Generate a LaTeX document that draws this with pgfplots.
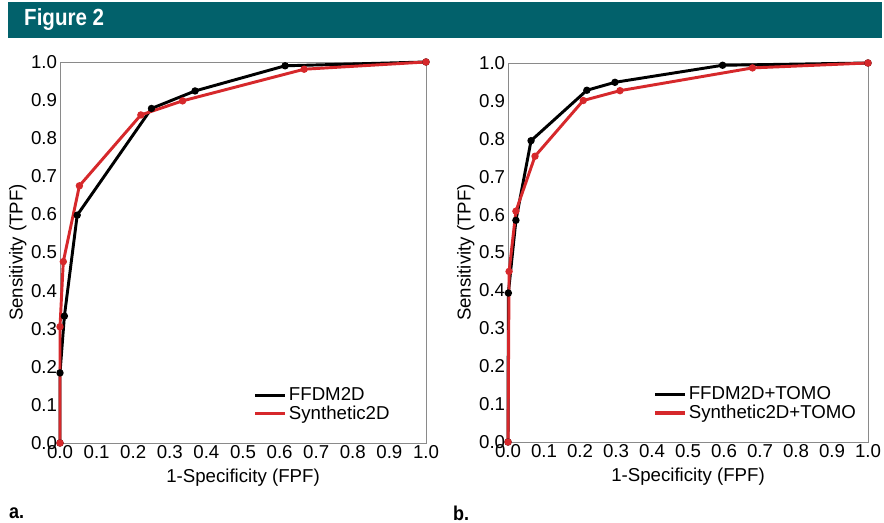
\documentclass[border=0pt]{standalone}
\usepackage{fontspec}
\setmainfont{Liberation Sans}
\usepackage{pgfplots}
\pgfplotsset{compat=1.18}
\definecolor{figteal}{HTML}{02616B}
\definecolor{rocred}{HTML}{D6282B}
\definecolor{frame}{HTML}{8A8A8A}

\pgfplotsset{
  roc/.style={
    scale only axis, clip=false,
    xmin=0, xmax=1, ymin=0, ymax=1,
    xtick={0,0.1,0.2,0.3,0.4,0.5,0.6,0.7,0.8,0.9,1},
    ytick={0,0.1,0.2,0.3,0.4,0.5,0.6,0.7,0.8,0.9,1},
    major tick length=0pt,
    axis line style={frame, line width=0.6pt},
    tick label style={font=\fontsize{14}{16}\selectfont},
    label style={font=\fontsize{14}{16}\selectfont},
    xticklabel style={inner sep=2pt},
    yticklabel style={inner sep=2pt},
    xlabel style={yshift=-2pt},
    ylabel style={yshift=-2pt},
    /pgf/number format/fixed,
    /pgf/number format/fixed zerofill,
    /pgf/number format/precision=1,
    /pgf/number format/assume math mode=true,
    xlabel={1-Specificity (FPF)},
    ylabel={Sensitivity (TPF)},
    legend style={draw=none, fill=none, font=\fontsize{14}{16}\selectfont,
      anchor=south west, row sep=-1.5pt, inner sep=1pt},
    legend cell align=left,
    legend image code/.code={\draw[#1, mark=none, line width=2.4pt] (0pt,0pt) -- (22pt,0pt);},
  },
  blk/.style={black, line width=2.2pt, mark=*, mark size=1.6pt, mark options={solid}},
  rd/.style={rocred, line width=2.2pt, mark=*, mark size=1.6pt, mark options={solid}},
}

\begin{document}
\begin{tikzpicture}[x=0.75pt, y=0.75pt]
\useasboundingbox (0,0) rectangle (884,523);
\fill[figteal] (8,485) rectangle (882,521);
\node[anchor=west, text=white, font=\bfseries\fontsize{17.5}{20}\selectfont, xscale=0.88, inner sep=0pt] at (24,503) {Figure 2};

\begin{axis}[roc, at={(45pt,60pt)}, anchor=south west, width=274.5pt, height=285.75pt,
  legend style={at={(0.525,0.045)}}]
\addplot[blk] coordinates {(0,0) (0,0.184) (0.012,0.333) (0.047,0.598) (0.25,0.878) (0.369,0.924) (0.615,0.990) (1,1)};
\addplot[rd] coordinates {(0,0) (0,0.305) (0.009,0.476) (0.053,0.675) (0.221,0.861) (0.335,0.898) (0.667,0.981) (1,1)};
\legend{FFDM2D, Synthetic2D}
\end{axis}

\begin{axis}[roc, at={(381pt,60.75pt)}, anchor=south west, width=270pt, height=284.25pt,
  legend style={at={(0.40,0.045)}}]
\addplot[blk] coordinates {(0,0) (0.001,0.393) (0.022,0.585) (0.064,0.795) (0.219,0.928) (0.297,0.949) (0.596,0.994) (1,1)};
\addplot[rd] coordinates {(0,0) (0.003,0.450) (0.022,0.609) (0.075,0.754) (0.209,0.901) (0.311,0.927) (0.679,0.987) (1,1)};
\legend{FFDM2D+TOMO, Synthetic2D+TOMO}
\end{axis}

\node[anchor=west, font=\bfseries\fontsize{15}{17}\selectfont, xscale=0.9, inner sep=0pt] at (9,10) {a.};
\node[anchor=west, font=\bfseries\fontsize{15}{17}\selectfont, xscale=0.9, inner sep=0pt] at (453,10) {b.};
\end{tikzpicture}
\end{document}
